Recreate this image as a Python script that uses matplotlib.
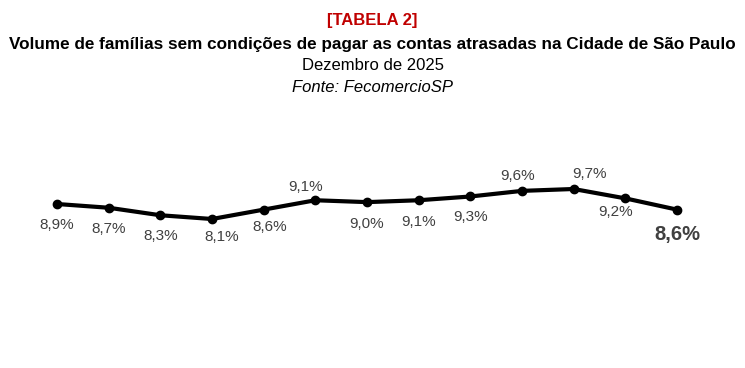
import matplotlib
matplotlib.use("Agg")
import matplotlib.pyplot as plt

plt.rcParams['font.family'] = ['Liberation Sans', 'DejaVu Sans']

# Data
months = ["dez/24", "jan/25", "fev/25", "mar/25", "abr/25", "mai/25", "jun/25",
          "jul/25", "ago/25", "set/25", "out/25", "nov/25", "dez/25"]
values = [8.9, 8.7, 8.3, 8.1, 8.6, 9.1, 9.0, 9.1, 9.3, 9.6, 9.7, 9.2, 8.6]
labels = ["8,9%", "8,7%", "8,3%", "8,1%", "8,6%", "9,1%", "9,0%",
          "9,1%", "9,3%", "9,6%", "9,7%", "9,2%", "8,6%"]

# label offsets in pixels (style)
offsets = [(0, -21), (0, -21), (0, -21), (10, -18), (6, -17), (-10, 13), (0, -22),
           (0, -22), (0, -21), (-4, 15), (16, 15), (-10, -14), (0, -25)]

W, H = 745, 368
fig = plt.figure(figsize=(W / 100, H / 100), dpi=100)

# Axes: x from 57px to 677px; y scale 18.75 px per unit
ax_top_px, ax_bot_px = 150, 260
ax = fig.add_axes([57 / W, (H - ax_bot_px) / H, 620 / W, (ax_bot_px - ax_top_px) / H])
ppu = 18.75
ymin = 8.1 - (ax_bot_px - 219) / ppu
ymax = 9.7 + (189 - ax_top_px) / ppu
ax.set_ylim(ymin, ymax)
x = list(range(len(values)))
ax.set_xlim(0, len(values) - 1)
ax.plot(x, values, color="black", linewidth=3.0, marker="o", markersize=6,
        solid_capstyle="round", clip_on=False)
ax.axis("off")

for i, (v, lab, off) in enumerate(zip(values, labels, offsets)):
    last = i == len(values) - 1
    ax.annotate(lab, (x[i], v), xytext=off, textcoords="offset pixels",
                ha="center", va="center",
                fontsize=14.5 if last else 11,
                fontweight="bold" if last else "normal",
                color="#404040")

# Titles
fig.text(0.5, 1 - 20 / H, "[TABELA 2]", ha="center", va="center",
         fontsize=12, fontweight="bold", color="#C00000")
fig.text(0.5, 1 - 45 / H,
         "Volume de famílias sem condições de pagar as contas atrasadas na Cidade de São Paulo",
         ha="center", va="center", fontsize=12.3, fontweight="bold", color="black")
fig.text(0.5, 1 - 66 / H, "Dezembro de 2025", ha="center", va="center",
         fontsize=12, color="black")
fig.text(0.5, 1 - 88 / H, "Fonte: FecomercioSP", ha="center", va="center",
         fontsize=12, style="italic", color="black")

fig.savefig("out.png", dpi=100, facecolor="white")
